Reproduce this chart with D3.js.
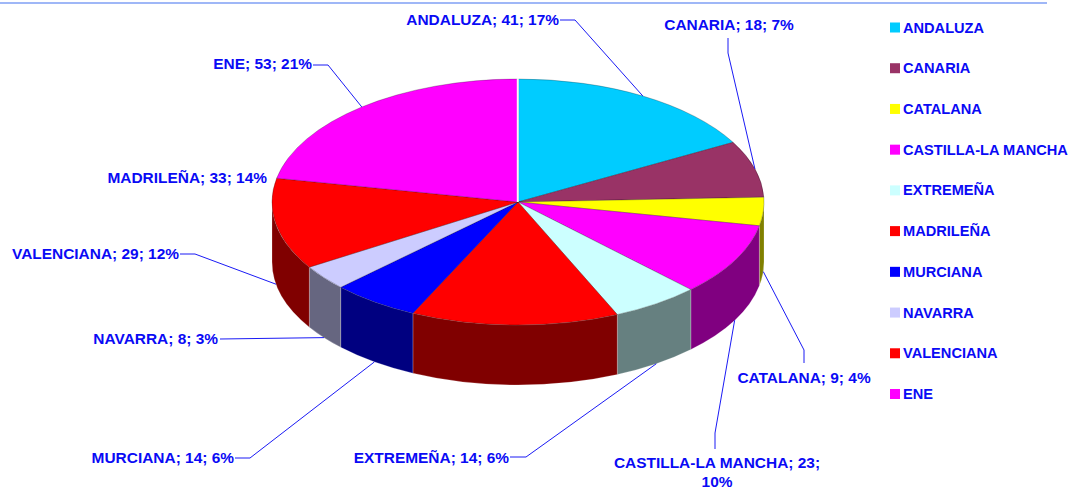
<!DOCTYPE html>
<html>
<head>
<meta charset="utf-8">
<script src="https://cdn.jsdelivr.net/npm/d3@7"></script>
<style>
    html, body { margin: 0; padding: 0; background: #fff; }
    svg { display: block; }
    text { font-family: "Liberation Sans", Arial, sans-serif; font-weight: bold; fill: #0a0af5; }
    .data-label { font-size: 15.45px; }
    .legend-label { font-size: 14.6px; }
    .leader { fill: none; stroke: #1a1af5; stroke-width: 1; }
</style>
</head>
<body>
<svg id="chart" width="1077" height="489"></svg>
<script>
// chart data
const categories = ["ANDALUZA", "CANARIA", "CATALANA", "CASTILLA-LA MANCHA", "EXTREMEÑA", "MADRILEÑA", "MURCIANA", "NAVARRA", "VALENCIANA", "ENE"];
const values = [41, 18, 9, 23, 14, 33, 14, 8, 29, 53];
const percents = [17, 7, 4, 10, 6, 14, 6, 3, 12, 21];
const topColors = ["#00ccff", "#993366", "#ffff00", "#ff00ff", "#ccffff", "#ff0000", "#0000ff", "#ccccff", "#ff0000", "#ff00ff"];
const sideColors = ["#006680", "#4d1a33", "#808000", "#800080", "#668080", "#800000", "#000080", "#666680", "#800000", "#800080"];

// label placement: x, y of the text, its anchor, and where the leader leaves it
const labelLayout = [
    {x: 559, y: 19, anchor: "end", leader: [[560, 20], [575, 20]]},
    {x: 729, y: 24, anchor: "middle", leader: [[728, 38], [728, 53]]},
    {x: 804, y: 377, anchor: "middle", leader: [[804, 363], [804, 350]]},
    {x: 717, y: 462, anchor: "middle", leader: [[715, 449], [715, 433]]},
    {x: 509, y: 457, anchor: "end", leader: [[510, 457], [526, 457]]},
    {x: 267, y: 177, anchor: "end", leader: null},
    {x: 234, y: 457, anchor: "end", leader: [[235, 458], [250, 458]]},
    {x: 218, y: 338, anchor: "end", leader: [[220, 339]]},
    {x: 179, y: 253, anchor: "end", leader: [[180, 254], [195, 254]]},
    {x: 312, y: 63, anchor: "end", leader: [[313, 65], [328, 65]]}
];

const cx = 518, cy = 202;
const rx = 246, ry = 123;
const depth = 60;

const svg = d3.select("#chart");

// rule across the top
svg.append("line")
    .attr("x1", 0).attr("x2", 1047)
    .attr("y1", 3).attr("y2", 3)
    .attr("stroke", "#7f9ff5")
    .attr("stroke-width", 1.5);

const slices = d3.pie().sort(null).value(d => d)(values);

// a point on the rim, angle measured clockwise from 12 o'clock
function rim(angle, drop) {
    return [cx + rx * Math.sin(angle), cy - ry * Math.cos(angle) + (drop || 0)];
}

// Walls: only the part of each slice facing the viewer
function wallPath(d) {
    const a0 = Math.max(d.startAngle, Math.PI / 2);
    const a1 = Math.min(d.endAngle, Math.PI * 3 / 2);
    if (a1 <= a0) return null;
    const p0 = rim(a0), p1 = rim(a1), q0 = rim(a0, depth), q1 = rim(a1, depth);
    return `M${p0}A${rx},${ry} 0 0 1 ${p1}L${q1}A${rx},${ry} 0 0 0 ${q0}Z`;
}

svg.append("g").selectAll("path")
    .data(slices.filter(d => wallPath(d)))
    .join("path")
    .attr("d", wallPath)
    .attr("fill", d => sideColors[d.index])
    .attr("stroke", "#ffffff")
    .attr("stroke-opacity", 0.35)
    .attr("stroke-width", 0.6);

// Top face is a flat pie squashed to an ellipse
const arc = d3.arc().innerRadius(0).outerRadius(rx);

svg.append("g")
    .attr("transform", `translate(${cx},${cy}) scale(1,${ry / rx})`)
    .selectAll("path")
    .data(slices)
    .join("path")
    .attr("d", arc)
    .attr("fill", d => topColors[d.index])
    .attr("stroke", "#000000")
    .attr("stroke-opacity", 0.4)
    .attr("stroke-width", 0.6)
    .attr("vector-effect", "non-scaling-stroke");

// white seam at 12 o'clock where the first and last slices meet
svg.append("line")
    .attr("x1", cx - 0.2).attr("x2", cx - 0.2)
    .attr("y1", cy - ry - 1).attr("y2", cy)
    .attr("stroke", "#f8f8f8")
    .attr("stroke-width", 2);

// Leaders run from the label to the middle of the slice's rim
const leaderLine = d3.line();
svg.append("g").selectAll("path")
    .data(slices.filter(d => labelLayout[d.index].leader))
    .join("path")
    .attr("class", "leader")
    .attr("d", d => {
        const mid = (d.startAngle + d.endAngle) / 2;
        const onWall = mid > Math.PI / 2 && mid < Math.PI * 3 / 2;
        return leaderLine([...labelLayout[d.index].leader, rim(mid, onWall ? depth : 0)]);
    });

// Data labels
const labels = svg.append("g").selectAll("text")
    .data(slices)
    .join("text")
    .attr("class", "data-label")
    .attr("text-anchor", d => labelLayout[d.index].anchor)
    .attr("dominant-baseline", "central")
    .attr("x", d => labelLayout[d.index].x)
    .attr("y", d => labelLayout[d.index].y);

labels.each(function(d) {
    const text = d3.select(this);
    const full = `${categories[d.index]}; ${values[d.index]}; ${percents[d.index]}%`;
    // the long label wraps onto two lines
    if (categories[d.index] === "CASTILLA-LA MANCHA") {
        text.append("tspan").text(`${categories[d.index]}; ${values[d.index]};`);
        text.append("tspan")
            .attr("x", labelLayout[d.index].x)
            .attr("dy", 19)
            .text(`${percents[d.index]}%`);
    } else {
        text.text(full);
    }
});

// Legend
const legendY = d3.scalePoint().domain(categories).range([27.5, 394]);
const legend = svg.append("g").selectAll("g")
    .data(categories)
    .join("g")
    .attr("transform", d => `translate(890,${legendY(d)})`);

legend.append("rect")
    .attr("x", 0).attr("y", -5)
    .attr("width", 10).attr("height", 10)
    .attr("fill", (d, i) => topColors[i]);

legend.append("text")
    .attr("class", "legend-label")
    .attr("x", 13)
    .attr("dominant-baseline", "central")
    .text(d => d);
</script>
</body>
</html>
